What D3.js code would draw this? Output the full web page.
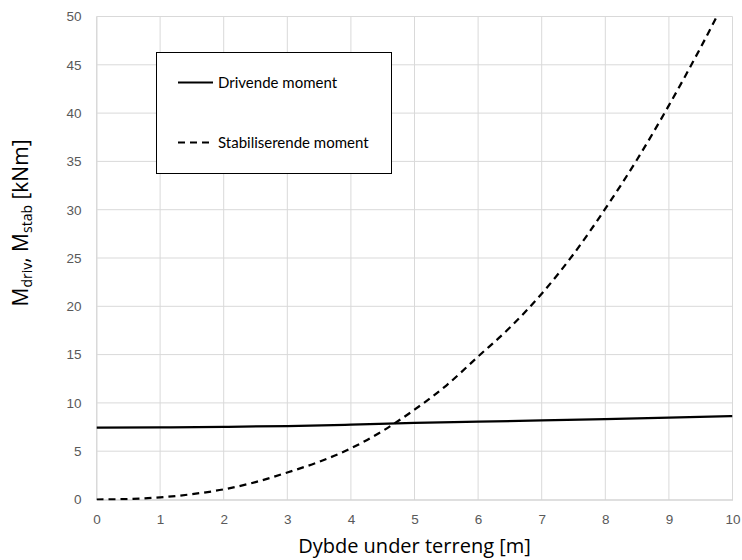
<!DOCTYPE html>
<html>
<head>
<meta charset="utf-8">
<script src="https://cdn.jsdelivr.net/npm/d3@7"></script>
<style>
  html, body { margin: 0; padding: 0; background: #fff; }
  svg { display: block; font-family: "Open Sans", sans-serif; }
</style>
</head>
<body>
<svg id="chart" width="742" height="560"></svg>
<script>
// Depth below terrain [m]
const depthDriv = [0, 1, 2, 3, 4, 5, 6, 7, 8, 9, 10];
// Driving moment [kNm]
const momentDriv = [7.43, 7.47, 7.52, 7.6, 7.75, 7.93, 8.05, 8.18, 8.32, 8.47, 8.63];

const depthStab = [0, 0.5, 1, 1.5, 2, 2.5, 3, 3.5, 4, 4.5, 5, 5.5, 6, 6.5, 7, 7.5, 8, 8.5, 9, 9.5, 10];
// Stabilising moment [kNm]
const momentStab = [0, 0.05, 0.22, 0.55, 1.05, 1.8, 2.8, 3.9, 5.3, 7.1, 9.3, 11.8, 14.8, 17.8, 21.3, 25.4, 30.1, 35.2, 40.8, 46.8, 53.2];

const xTicks = [0, 1, 2, 3, 4, 5, 6, 7, 8, 9, 10];
const yTicks = [0, 5, 10, 15, 20, 25, 30, 35, 40, 45, 50];

const seriesNames = ["Drivende moment", "Stabiliserende moment"];

const svg = d3.select("#chart");
const W = 742, H = 560;
const margin = { left: 96.5, right: W - 732.5, top: 16.5, bottom: H - 499.5 };

const x = d3.scaleLinear().domain([0, 10]).range([margin.left, W - margin.right]);
const y = d3.scaleLinear().domain([0, 50]).range([H - margin.bottom, margin.top]);

// gridlines
const grid = svg.append("g");
grid.selectAll("line.h").data(yTicks.filter(d => d > 0)).join("line")
  .attr("x1", x(0)).attr("x2", x(10))
  .attr("y1", d => y(d)).attr("y2", d => y(d))
  .attr("stroke", "#d9d9d9").attr("stroke-width", 1);
grid.selectAll("line.v").data(xTicks).join("line")
  .attr("y1", y(0)).attr("y2", y(50))
  .attr("x1", d => x(d)).attr("x2", d => x(d))
  .attr("stroke", "#d9d9d9").attr("stroke-width", 1);

// axes
const xAxis = svg.append("g")
  .attr("transform", `translate(0,${y(0)})`)
  .call(d3.axisBottom(x).tickValues(xTicks).tickSize(0).tickPadding(15).tickFormat(d3.format("d")));
xAxis.select(".domain").attr("stroke", "#bfbfbf").attr("stroke-width", 1);
xAxis.selectAll("text").attr("fill", "#595959").style("font-size", "13.5px");

const yAxis = svg.append("g")
  .attr("transform", `translate(${x(0)},0)`)
  .call(d3.axisLeft(y).tickValues(yTicks).tickSize(0).tickPadding(15).tickFormat(d3.format("d")));
yAxis.select(".domain").attr("stroke", "#d9d9d9").attr("stroke-width", 1);
yAxis.selectAll("text").attr("fill", "#595959").style("font-size", "13.5px");

// clip to plot area
svg.append("clipPath").attr("id", "plotClip")
  .append("rect")
  .attr("x", x(0)).attr("y", y(50) - 1)
  .attr("width", x(10) - x(0)).attr("height", y(0) - y(50) + 2);

const line = d3.line().x(d => x(d[0])).y(d => y(d[1])).curve(d3.curveMonotoneX);

const plot = svg.append("g").attr("clip-path", "url(#plotClip)");
plot.append("path")
  .datum(depthDriv.map((d, i) => [d, momentDriv[i]]))
  .attr("d", line)
  .attr("fill", "none").attr("stroke", "#000").attr("stroke-width", 2.25);
plot.append("path")
  .datum(depthStab.map((d, i) => [d, momentStab[i]]))
  .attr("d", line)
  .attr("fill", "none").attr("stroke", "#000").attr("stroke-width", 2.25)
  .attr("stroke-dasharray", "7,5");

// legend
const lg = svg.append("g");
lg.append("rect")
  .attr("x", 156.5).attr("y", 52.5).attr("width", 235).attr("height", 121)
  .attr("fill", "#fff").attr("stroke", "#000").attr("stroke-width", 1);
const legendRows = [
  { name: seriesNames[0], dash: null, yy: 82.5 },
  { name: seriesNames[1], dash: "7,5", yy: 142.5 }
];
legendRows.forEach(r => {
  lg.append("line")
    .attr("x1", 178).attr("x2", 213).attr("y1", r.yy).attr("y2", r.yy)
    .attr("stroke", "#000").attr("stroke-width", 2)
    .attr("stroke-dasharray", r.dash);
  lg.append("text")
    .attr("x", 218).attr("y", r.yy + 5)
    .attr("fill", "#000").style("font-size", "15px")
    .style("font-family", "Lato, sans-serif")
    .text(r.name);
});

// axis titles
svg.append("text")
  .attr("x", (x(0) + x(10)) / 2).attr("y", 553)
  .attr("text-anchor", "middle")
  .attr("fill", "#000").style("font-size", "20px")
  .text("Dybde under terreng [m]");

const yt = svg.append("text")
  .attr("transform", "translate(28,223) rotate(-90)")
  .attr("text-anchor", "middle")
  .attr("fill", "#000").style("font-size", "21px");
yt.append("tspan").text("M");
yt.append("tspan").attr("dy", 4).style("font-size", "14px").text("driv");
yt.append("tspan").attr("dy", -4).text(", M");
yt.append("tspan").attr("dy", 4).style("font-size", "14px").text("stab");
yt.append("tspan").attr("dy", -4).text(" [kNm]");
</script>
</body>
</html>
